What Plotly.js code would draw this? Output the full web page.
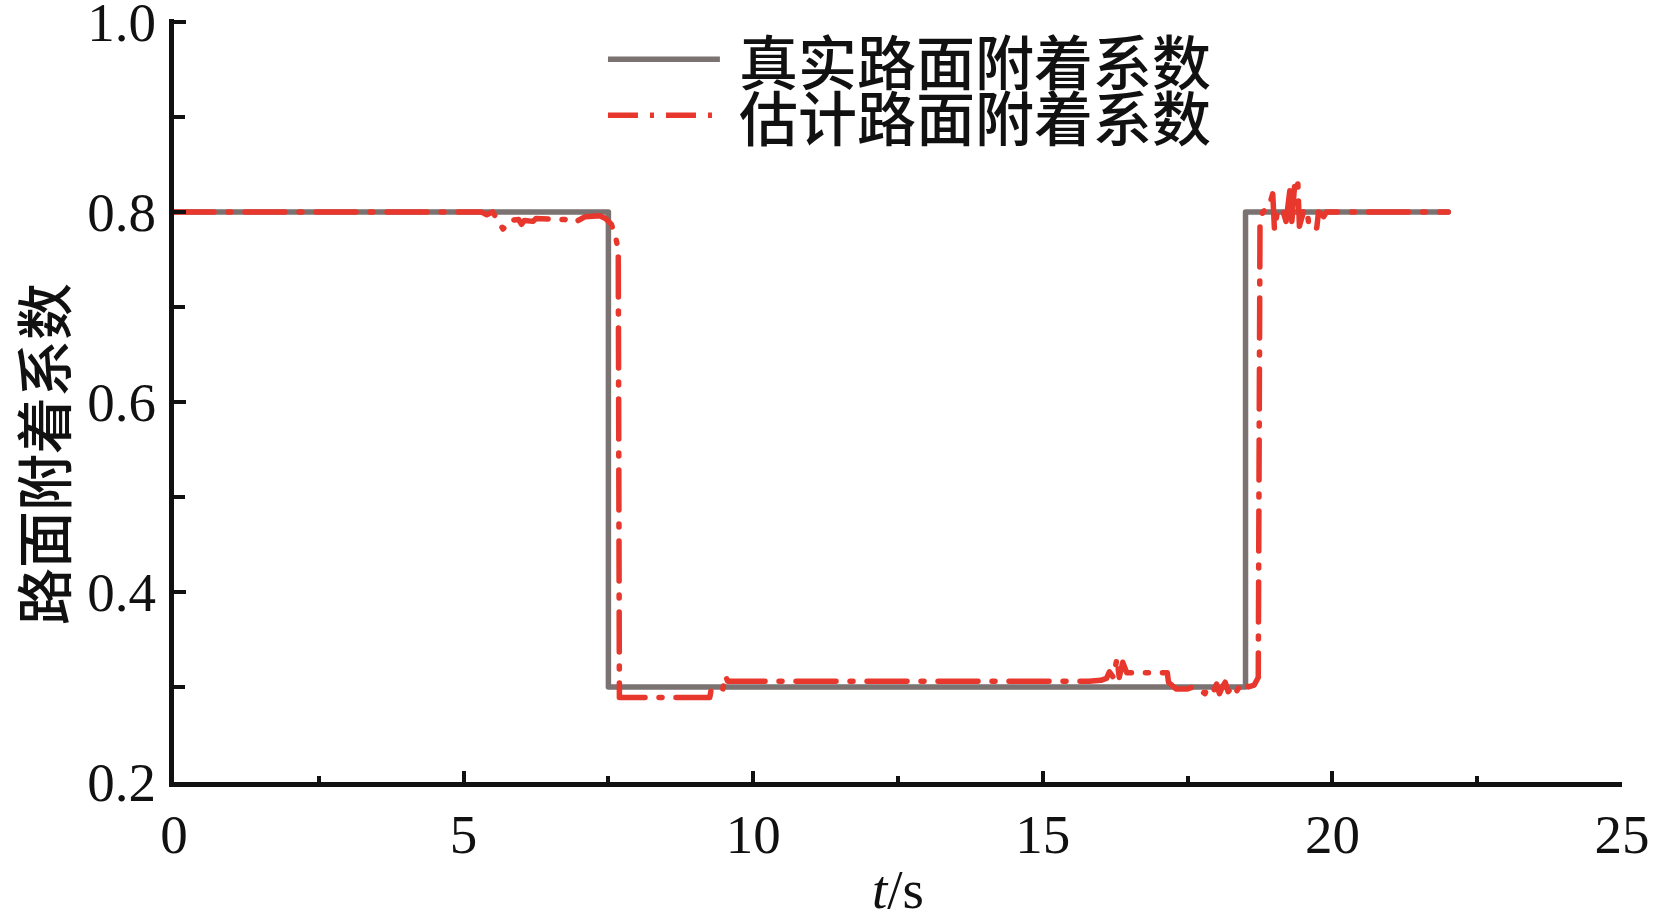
<!DOCTYPE html>
<html><head><meta charset="utf-8">
<script src="https://cdn.plot.ly/plotly-3.0.1.min.js"></script>
<style>
html,body{margin:0;padding:0;background:#fff;}
.scatterlayer .js-line{stroke-linecap:round;stroke-linejoin:round;}
</style>
</head><body>
<div id="chart" style="width:1654px;height:920px;"></div>
<script>
// True road adhesion coefficient
const trueT  = [0, 7.5, 7.5, 18.5, 18.5, 22];
const trueMu = [0.8, 0.8, 0.3, 0.3, 0.8, 0.8];

// Estimated road adhesion coefficient
const estT = [0, 5.3, 5.4, 5.5, 5.6, 5.68, 5.75, 5.8, 5.95, 6.0, 6.05, 6.2, 6.25, 6.75, 6.85, 6.95, 7.1, 7.35, 7.45, 7.55, 7.62, 7.67, 7.69,
  9.25, 9.27, 9.47, 9.52, 9.56, 15.8, 16.0, 16.1, 16.15, 16.22, 16.28, 16.32, 16.38, 16.45, 17.15, 17.17, 17.3, 17.5, 17.6, 17.7, 17.8, 17.85,
  17.95, 18.0, 18.05, 18.1, 18.15, 18.2, 18.3, 18.35, 18.45, 18.55, 18.65, 18.72, 18.73, 18.75, 18.8, 18.9, 18.97, 19.0, 19.05, 19.13, 19.2,
  19.27, 19.3, 19.35, 19.4, 19.43, 19.5, 19.56, 19.6, 19.73, 19.76, 19.85, 19.9, 22.0];
const estMu = [0.8, 0.8, 0.797, 0.8, 0.79, 0.782, 0.786, 0.791, 0.792, 0.787, 0.791, 0.79, 0.793, 0.792, 0.789, 0.79, 0.795, 0.796, 0.793, 0.787, 0.775, 0.76, 0.289,
  0.289, 0.296, 0.296, 0.312, 0.306, 0.306, 0.307, 0.309, 0.316, 0.31, 0.33, 0.31, 0.326, 0.315, 0.315, 0.305, 0.298, 0.298, 0.3, 0.297, 0.293, 0.3,
  0.296, 0.303, 0.293, 0.3, 0.305, 0.295, 0.302, 0.296, 0.305, 0.3, 0.302, 0.31, 0.5, 0.79, 0.8, 0.805, 0.819, 0.781, 0.8, 0.804, 0.79,
  0.825, 0.79, 0.83, 0.835, 0.785, 0.8, 0.803, 0.783, 0.783, 0.8, 0.795, 0.8, 0.8];

const legendNames = ['真实路面附着系数', '估计路面附着系数'];
const yTitle = '路面附着系数';
const xTickVals = [0, 5, 10, 15, 20, 25];
const yTickVals = [0.2, 0.4, 0.6, 0.8, 1.0];
const yTickText = ['0.2', '0.4', '0.6', '0.8', '1.0'];

const grayCol = '#7a7371';
const redCol = '#e8372c';
const dashPat = '40px,14px,3px,14px';

const traces = [
  {x: trueT, y: trueMu, type: 'scatter', mode: 'lines', name: legendNames[0],
   line: {color: grayCol, width: 5.5}, showlegend: false},
  {x: estT, y: estMu, type: 'scatter', mode: 'lines', name: legendNames[1],
   line: {color: redCol, width: 5.5, dash: dashPat}, showlegend: false}
];

const serif = 'Liberation Serif, Times New Roman, serif';
const cjk = 'Noto Sans CJK SC, sans-serif';

const layout = {
  width: 1654, height: 920,
  margin: {l: 174, r: 32, t: 19, b: 138},
  paper_bgcolor: '#fff', plot_bgcolor: '#fff',
  xaxis: {
    range: [0, 25], tickvals: xTickVals, ticks: 'inside', ticklen: 11, tickwidth: 4,
    tickcolor: '#111', showline: true, linecolor: '#111', linewidth: 5,
    showgrid: false, zeroline: false,
    tickfont: {family: serif, size: 55, color: '#111'},
    minor: {dtick: 2.5, tick0: 0, ticks: 'inside', ticklen: 6, tickwidth: 4, tickcolor: '#111', showgrid: false},
    title: {text: '<i>t</i>/s', font: {family: serif, size: 55, color: '#111'}, standoff: 30},
    automargin: false
  },
  yaxis: {
    range: [0.2, 1.003], tickmode: 'array', tickvals: yTickVals, ticktext: yTickText, ticks: 'inside', ticklen: 12, tickwidth: 4,
    tickcolor: '#111', showline: true, linecolor: '#111', linewidth: 5,
    showgrid: false, zeroline: false,
    ticklabeloverflow: 'allow',
    tickfont: {family: serif, size: 55, color: '#111'},
    minor: {dtick: 0.1, tick0: 0.2, ticks: 'inside', ticklen: 11, tickwidth: 4, tickcolor: '#111', showgrid: false},
    ticklabelstandoff: 2,
    automargin: false
  },
  shapes: [
    {type: 'line', xref: 'paper', yref: 'paper', x0: 0.2997, x1: 0.377, y0: 0.9474, y1: 0.9474,
     line: {color: grayCol, width: 5.5}},
    {type: 'line', xref: 'paper', yref: 'paper', x0: 0.2997, x1: 0.377, y0: 0.8739, y1: 0.8739,
     line: {color: redCol, width: 5.5, dash: '30px,12px,4px,12px'}}
  ],
  annotations: [
    {text: legendNames[0], xref: 'paper', yref: 'paper', x: 0.3885, y: 0.9474, xanchor: 'left', yanchor: 'middle',
     showarrow: false, font: {family: cjk, size: 59, color: '#111', weight: 500}},
    {text: legendNames[1], xref: 'paper', yref: 'paper', x: 0.3885, y: 0.8739, xanchor: 'left', yanchor: 'middle',
     showarrow: false, font: {family: cjk, size: 59, color: '#111', weight: 500}},
    {text: yTitle, xref: 'paper', yref: 'paper', x: -0.092, y: 0.4297, xanchor: 'center', yanchor: 'middle',
     textangle: -90, showarrow: false, font: {family: cjk, size: 57, color: '#111', weight: 500}}
  ]
};

Plotly.newPlot('chart', traces, layout, {displayModeBar: false, staticPlot: true});
</script>
</body></html>
